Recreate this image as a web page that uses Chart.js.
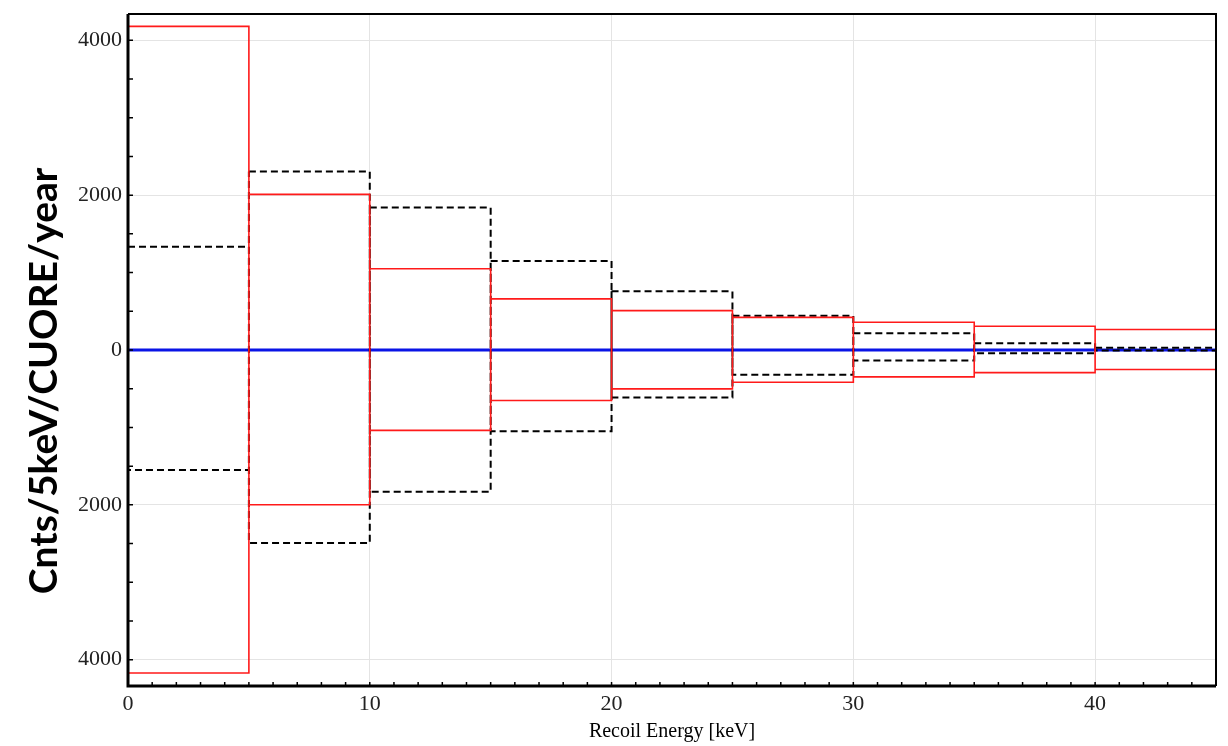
<!DOCTYPE html>
<html>
<head>
<meta charset="utf-8">
<script src="https://cdn.jsdelivr.net/npm/chart.js@4.4.0/dist/chart.umd.min.js"></script>
<style>
  html, body { margin: 0; padding: 0; background: #fff; }
</style>
</head>
<body>
<canvas id="recoilChart" width="1228" height="746"></canvas>
<script>
// 5 keV bins of recoil energy
const binEdges = [0, 5, 10, 15, 20, 25, 30, 35, 40, 45];

// red band (upper / lower per bin)
const redHigh = [4180, 2010, 1050, 660, 508, 422, 358, 306, 264];
const redLow = [-4172, -1998, -1038, -652, -502, -416, -347, -292, -252];

// black dashed band (upper / lower per bin)
const blackHigh = [1334, 2305, 1840, 1150, 758, 442, 215, 88, 28];
const blackLow = [-1549, -2492, -1830, -1048, -612, -321, -137, -42, -8];

// reference level
const zeroLevel = 0;

const xTicks = [0, 10, 20, 30, 40];
const yTicks = [-4000, -2000, 0, 2000, 4000];

function boxPath(edges, hi, lo) {
    const pts = [];
    for (let i = 0; i < hi.length; i++) {
        const x0 = edges[i], x1 = edges[i + 1];
        pts.push({x: x0, y: hi[i]}, {x: x1, y: hi[i]}, {x: x1, y: lo[i]},
                 {x: x0, y: lo[i]}, {x: x0, y: hi[i]}, {x: x1, y: null});
    }
    return pts;
}

// inward ticks, frame and axis titles
const framePlugin = {
    id: 'frame',
    afterDatasetsDraw(chart) {
        const {ctx, chartArea: a, scales: {x, y}} = chart;
        ctx.save();
        ctx.strokeStyle = '#000';
        ctx.lineWidth = 1.5;
        ctx.beginPath();
        for (let v = 0; v <= 45; v += 1) {
            const px = x.getPixelForValue(v);
            ctx.moveTo(px, a.bottom);
            ctx.lineTo(px, a.bottom - 4);
        }
        for (let v = -4000; v <= 4000; v += 500) {
            const py = y.getPixelForValue(v);
            ctx.moveTo(a.left, py);
            ctx.lineTo(a.left + 5, py);
        }
        ctx.stroke();

        ctx.lineWidth = 2;
        ctx.beginPath();
        ctx.moveTo(a.left, a.top);
        ctx.lineTo(a.right, a.top);
        ctx.lineTo(a.right, a.bottom);
        ctx.stroke();

        ctx.lineWidth = 3;
        ctx.beginPath();
        ctx.moveTo(a.left, a.top);
        ctx.lineTo(a.left, a.bottom);
        ctx.lineTo(a.right, a.bottom);
        ctx.stroke();

        ctx.fillStyle = '#000';
        ctx.textAlign = 'center';
        ctx.textBaseline = 'middle';
        ctx.font = '20px "Liberation Serif"';
        ctx.fillText('Recoil Energy [keV]', (a.left + a.right) / 2, 732);

        ctx.translate(44, 381);
        ctx.rotate(-Math.PI / 2);
        ctx.font = 'bold 39px Lato';
        ctx.fillText('Cnts/5keV/CUORE/year', 0, 0);
        ctx.restore();
    }
};

const ctx = document.getElementById('recoilChart').getContext('2d');

const chart = new Chart(ctx, {
    type: 'line',
    data: {
        datasets: [
            {
                data: boxPath(binEdges, redHigh, redLow),
                borderColor: '#ff1a1a',
                borderWidth: 1.6,
            },
            {
                data: boxPath(binEdges, blackHigh, blackLow),
                borderColor: '#000',
                borderWidth: 2,
                borderDash: [7, 4],
            },
            {
                data: [{x: binEdges[0], y: zeroLevel}, {x: binEdges[binEdges.length - 1], y: zeroLevel}],
                borderColor: '#0a14e6',
                borderWidth: 3,
            }
        ]
    },
    options: {
        responsive: false,
        animation: false,
        devicePixelRatio: 1,
        spanGaps: false,
        elements: {
            point: { radius: 0 },
            line: { tension: 0, fill: false, borderJoinStyle: 'miter' }
        },
        layout: { padding: { top: 14, right: 12, left: 0, bottom: 0 } },
        plugins: {
            legend: { display: false },
            tooltip: { enabled: false }
        },
        scales: {
            x: {
                type: 'linear',
                min: 0,
                max: 45,
                afterBuildTicks: s => { s.ticks = xTicks.map(v => ({value: v})); },
                afterFit: s => { s.height = 60; s.paddingLeft = 0; s.paddingRight = 0; },
                grid: { color: '#e4e4e4', lineWidth: 1, drawTicks: false },
                border: { display: false },
                ticks: {
                    padding: 5,
                    color: '#222',
                    font: { family: '"Liberation Serif"', size: 22 }
                }
            },
            y: {
                type: 'linear',
                min: -4340,
                max: 4340,
                afterBuildTicks: s => { s.ticks = yTicks.map(v => ({value: v})); },
                afterFit: s => { s.width = 128; s.paddingTop = 0; s.paddingBottom = 0; },
                grid: { color: '#e4e4e4', lineWidth: 1, drawTicks: false },
                border: { display: false },
                ticks: {
                    padding: 6,
                    color: '#222',
                    font: { family: '"Liberation Serif"', size: 22 },
                    callback: v => String(Math.abs(v))
                }
            }
        }
    },
    plugins: [framePlugin]
});
</script>
</body>
</html>
